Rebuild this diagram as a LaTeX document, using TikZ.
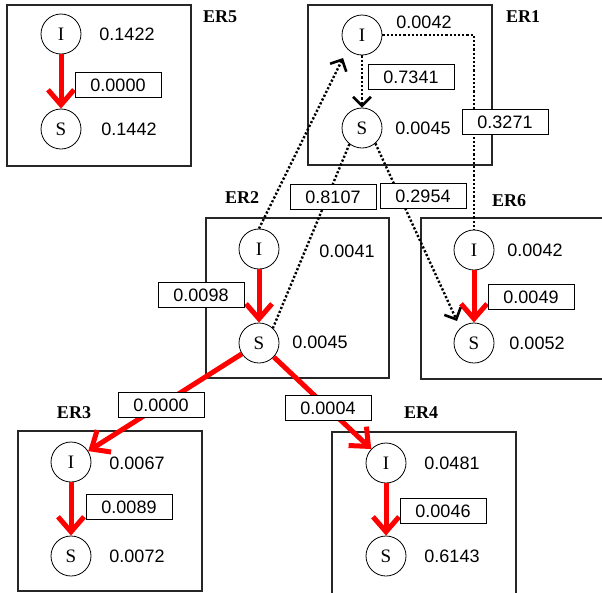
\documentclass[tikz,border=0pt]{standalone}
\usepackage{fontspec}
\setmainfont{Liberation Serif}
\newfontfamily\numfont{Liberation Sans}
\usetikzlibrary{arrows.meta,calc}
\begin{document}
\begin{tikzpicture}[x=1pt,y=-1pt,
  region/.style={draw=black!85, line width=1.2pt},
  st/.style={draw, circle, minimum size=40pt, inner sep=0pt, line width=0.8pt, font=\fontsize{19}{19}\selectfont},
  val/.style={font=\numfont\fontsize{18}{18}\selectfont, inner sep=0pt},
  lab/.style={draw, fill=white, line width=1pt, minimum width=86pt, minimum height=25pt, inner sep=0pt, font=\numfont\fontsize{18}{18}\selectfont},
  ername/.style={font=\bfseries\fontsize{18}{18}\selectfont, inner sep=0pt},
  redarr/.style={draw=red, line width=5pt, -{Straight Barb[length=15pt,width=26pt]}},
  dot/.style={line width=2.4pt, dash pattern=on 2.2pt off 2pt},
  dotarr/.style={dot, -{Straight Barb[length=9pt,width=18pt,line width=2.6pt]}}
]
\useasboundingbox (0,0) rectangle (602,592);
\clip (0,0) rectangle (602,592);
\fill[white] (0,0) rectangle (602,592);
% regions
\draw[region] (7,5) rectangle (191,166);
\draw[region] (308,5) rectangle (492,165);
\draw[region] (206,218) rectangle (389,378);
\draw[region] (421,218) rectangle (612,379);
\draw[region] (18,431) rectangle (202,591);
\draw[region] (332,432) rectangle (516,605);
% region names
\node[ername] (n5) at (220,17) {ER5};
\node[ername] (n1) at (523,17) {ER1};
\node[ername] (n2) at (242,198) {ER2};
\node[ername] (n6) at (509,201) {ER6};
\node[ername] (n3) at (74,413) {ER3};
\node[ername] (n4) at (421,413) {ER4};
% states
\node[st] (e5I) at (61,34) {I};
\node[st] (e5S) at (61,129) {S};
\node[st] (e1I) at (362,35) {I};
\node[st] (e1S) at (362,128) {S};
\node[st] (e2I) at (259,249) {I};
\node[st] (e2S) at (259,343) {S};
\node[st] (e6I) at (474,250) {I};
\node[st] (e6S) at (474,343) {S};
\node[st] (e3I) at (71,462) {I};
\node[st] (e3S) at (71,556) {S};
\node[st] (e4I) at (386,463) {I};
\node[st] (e4S) at (386,556) {S};
% connectors
\draw[redarr] (e5I) -- (e5S);
\draw[redarr] (e2I) -- (e2S);
\draw[redarr] (e6I) -- (e6S);
\draw[redarr] (e3I) -- (e3S);
\draw[redarr] (e4I) -- (e4S);
\draw[redarr] (e2S) -- (e3I);
\draw[redarr] (e2S) -- (e4I);
\draw[dotarr] (e1I) -- (e1S);
\draw[dotarr] (e2I.north) -- ($(e1I.center)+(-19,23)$);
\draw[dot] (e1S.232) -- (e2S.47);
\draw[dotarr] (e1S.311) -- ($(e6S.center)+(-17,-22)$);
\draw[dot] (e1I.east) -| (e6I.north);
% transition labels
\node[lab] (l5) at (118,85) {0.0000};
\node[lab] (l1) at (411,77) {0.7341};
\node[lab] (l16) at (505,122) {0.3271};
\node[lab] (l12) at (333,197) {0.8107};
\node[lab] (l16b) at (423,196) {0.2954};
\node[lab] (l2) at (201,295) {0.0098};
\node[lab] (l6) at (531,297) {0.0049};
\node[lab] (l23) at (161,405) {0.0000};
\node[lab] (l24) at (328,408) {0.0004};
\node[lab] (l3) at (129,507) {0.0089};
\node[lab] (l4) at (443,511) {0.0046};
% state values
\node[val] (v5I) at (127,34) {0.1422};
\node[val] (v5S) at (129,129) {0.1442};
\node[val] (v1I) at (424,22) {0.0042};
\node[val] (v1S) at (423,128) {0.0045};
\node[val] (v2I) at (347,251) {0.0041};
\node[val] (v2S) at (320,342) {0.0045};
\node[val] (v6I) at (535,250) {0.0042};
\node[val] (v6S) at (537,343) {0.0052};
\node[val] (v3I) at (137,463) {0.0067};
\node[val] (v3S) at (137,556) {0.0072};
\node[val] (v4I) at (452,463) {0.0481};
\node[val] (v4S) at (452,556) {0.6143};
\end{tikzpicture}
\end{document}
